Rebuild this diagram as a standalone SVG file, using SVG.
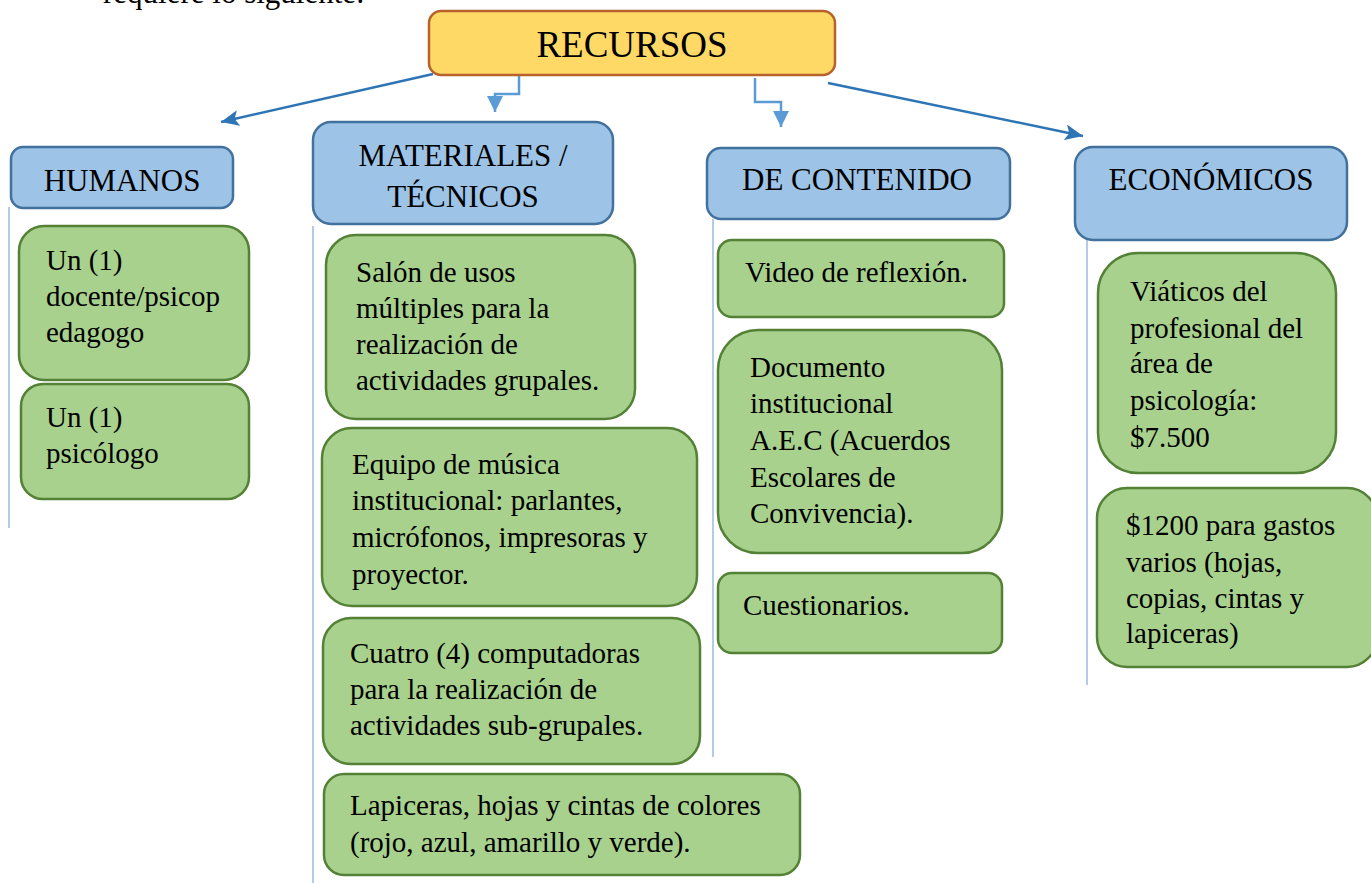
<svg xmlns="http://www.w3.org/2000/svg" width="1371" height="883" viewBox="0 0 1371 883">
<style>
text{font-family:"Liberation Serif","Times New Roman",serif;fill:#000}
.g{font-size:29px}
.h{font-size:31px;text-anchor:middle}
.root rect{fill:#FFD966;stroke:#B8612A;stroke-width:2.5}
.hdr rect{fill:#9DC3E6;stroke:#41719C;stroke-width:2.5}
.leaf rect{fill:#A9D18E;stroke:#538135;stroke-width:2.5}
.vl{stroke:#7FA9DC;stroke-width:1.2;fill:none}
.dark{stroke:#2E75B6;stroke-width:2.5;fill:none}
.light{stroke:#5B9BD5;stroke-width:2.5;fill:none}
</style>
<defs>
<marker id="ad" markerUnits="userSpaceOnUse" markerWidth="20" markerHeight="16" refX="18" refY="8" orient="auto"><path d="M0,0 L18,8 L0,16 L4,8 Z" fill="#2E75B6"/></marker>
<marker id="al" markerUnits="userSpaceOnUse" markerWidth="18" markerHeight="18" refX="16" refY="8" orient="auto"><path d="M0,0 L16,8 L0,16 Z" fill="#5B9BD5"/></marker>
</defs>
<rect width="1371" height="883" fill="#fff"/>
<text x="103" y="3" style="font-size:31px">requiere lo siguiente:</text>

<g id="connectors">
<line class="dark" x1="433" y1="74" x2="221" y2="122" marker-end="url(#ad)"/>
<line class="dark" x1="828" y1="83" x2="1083" y2="136" marker-end="url(#ad)"/>
<path class="light" d="M519,75 V94 H495 V112" marker-end="url(#al)"/>
<path class="light" d="M755,78 V102 H781 V127" marker-end="url(#al)"/>
<line class="vl" x1="9" y1="207" x2="9" y2="528"/>
<line class="vl" x1="313" y1="226" x2="313" y2="883"/>
<line class="vl" x1="713" y1="219" x2="713" y2="757"/>
<line class="vl" x1="1087" y1="240" x2="1087" y2="685"/>
</g>

<g id="recursos" class="root"><rect x="429" y="11" width="406" height="64" rx="12"/><text x="632" y="57" style="font-size:37px;text-anchor:middle">RECURSOS</text></g>

<g id="humanos" class="hdr"><rect x="11" y="147" width="222" height="61" rx="12"/><text class="h" x="122" y="191">HUMANOS</text></g>
<g id="materiales" class="hdr"><rect x="313" y="122" width="300" height="102" rx="18"/><text class="h" x="463" y="166">MATERIALES /</text><text class="h" x="463" y="207">TÉCNICOS</text></g>
<g id="contenido" class="hdr"><rect x="707" y="148" width="303" height="71" rx="14"/><text class="h" x="857" y="190">DE CONTENIDO</text></g>
<g id="economicos" class="hdr"><rect x="1075" y="147" width="272" height="93" rx="18"/><text class="h" x="1211" y="190">ECONÓMICOS</text></g>

<g id="h1" class="leaf"><rect x="19" y="226" width="230" height="154" rx="25"/><text class="g" x="46" y="270">Un (1)</text><text class="g" x="46" y="306">docente/psicop</text><text class="g" x="46" y="342">edagogo</text></g>
<g id="h2" class="leaf"><rect x="21" y="384" width="228" height="115" rx="22"/><text class="g" x="46" y="427">Un (1)</text><text class="g" x="46" y="463">psicólogo</text></g>

<g id="m1" class="leaf"><rect x="326" y="235" width="309" height="184" rx="30"/><text class="g" x="356" y="282">Salón de usos</text><text class="g" x="356" y="318">múltiples para la</text><text class="g" x="356" y="354">realización de</text><text class="g" x="356" y="390">actividades grupales.</text></g>
<g id="m2" class="leaf"><rect x="322" y="428" width="375" height="178" rx="30"/><text class="g" x="352" y="474">Equipo de música</text><text class="g" x="352" y="510">institucional: parlantes,</text><text class="g" x="352" y="547">micrófonos, impresoras y</text><text class="g" x="352" y="584">proyector.</text></g>
<g id="m3" class="leaf"><rect x="323" y="618" width="377" height="146" rx="28"/><text class="g" x="350" y="663">Cuatro (4) computadoras</text><text class="g" x="350" y="699">para la realización de</text><text class="g" x="350" y="735">actividades sub-grupales.</text></g>
<g id="m4" class="leaf"><rect x="324" y="774" width="476" height="101" rx="20"/><text class="g" x="350" y="815">Lapiceras, hojas y cintas de colores</text><text class="g" x="350" y="852">(rojo, azul, amarillo y verde).</text></g>

<g id="c1" class="leaf"><rect x="718" y="240" width="286" height="77" rx="14"/><text class="g" x="745" y="282">Video de reflexión.</text></g>
<g id="c2" class="leaf"><rect x="718" y="330" width="284" height="223" rx="40"/><text class="g" x="750" y="377">Documento</text><text class="g" x="750" y="413">institucional</text><text class="g" x="750" y="450">A.E.C (Acuerdos</text><text class="g" x="750" y="487">Escolares de</text><text class="g" x="750" y="523">Convivencia).</text></g>
<g id="c3" class="leaf"><rect x="718" y="573" width="284" height="80" rx="14"/><text class="g" x="743" y="615">Cuestionarios.</text></g>

<g id="e1" class="leaf"><rect x="1098" y="253" width="238" height="220" rx="40"/><text class="g" x="1130" y="301">Viáticos del</text><text class="g" x="1130" y="338">profesional del</text><text class="g" x="1130" y="373">área de</text><text class="g" x="1130" y="410">psicología:</text><text class="g" x="1130" y="447">$7.500</text></g>
<g id="e2" class="leaf"><rect x="1097" y="488" width="280" height="179" rx="30"/><text class="g" x="1126" y="535">$1200 para gastos</text><text class="g" x="1126" y="572">varios (hojas,</text><text class="g" x="1126" y="608">copias, cintas y</text><text class="g" x="1126" y="643">lapiceras)</text></g>
</svg>
